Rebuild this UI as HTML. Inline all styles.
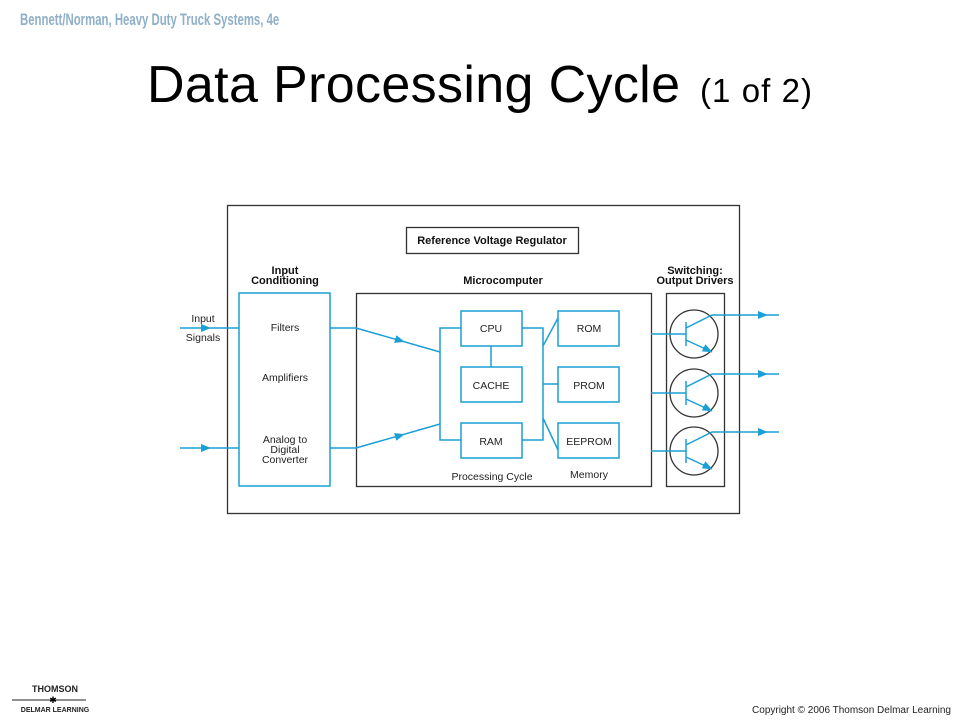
<!DOCTYPE html>
<html><head><style>
body{margin:0;width:959px;height:719px;background:#fff;overflow:hidden;font-family:"Liberation Sans",sans-serif;}
</style></head><body>
<svg width="959" height="719" viewBox="0 0 959 719" xmlns="http://www.w3.org/2000/svg" font-family="Liberation Sans, sans-serif">
<defs>
<marker id="a" markerWidth="10" markerHeight="8" refX="5" refY="4" orient="auto" markerUnits="userSpaceOnUse"><path d="M0,0 L10,4 L0,8 Z" fill="#1a9fd6"/></marker>
</defs>
<text x="0" y="0" font-size="17" font-weight="bold" fill="#8fb0c8" transform="translate(20,25) scale(0.67,1)">Bennett/Norman, Heavy Duty Truck Systems, 4e</text>
<text x="147" y="102" font-size="52" fill="#000" textLength="533">Data Processing Cycle</text>
<text x="700" y="102" font-size="33" fill="#000" textLength="112">(1 of 2)</text>

<g fill="none" stroke="#333" stroke-width="1.3">
<rect x="227.5" y="205.5" width="512" height="308"/>
<rect x="406.5" y="227.5" width="172" height="26"/>
<rect x="356.5" y="293.5" width="295" height="193"/>
<rect x="666.5" y="293.5" width="58" height="193"/>
<circle cx="694" cy="334" r="24"/><circle cx="694" cy="393" r="24"/><circle cx="694" cy="451" r="24"/>
</g>
<g font-size="11" font-weight="bold" text-anchor="middle" fill="#111">
<text x="492" y="244">Reference Voltage Regulator</text>
<text x="285" y="274">Input</text><text x="285" y="284">Conditioning</text>
<text x="503" y="284">Microcomputer</text>
<text x="695" y="274">Switching:</text><text x="695" y="284">Output Drivers</text>
</g>
<g fill="none" stroke="#1a9fd6" stroke-width="1.5">
<rect x="239" y="293" width="91" height="193"/>
<rect x="461" y="311" width="61" height="35"/><rect x="461" y="367" width="61" height="35"/><rect x="461" y="423" width="61" height="35"/>
<rect x="558" y="311" width="61" height="35"/><rect x="558" y="367" width="61" height="35"/><rect x="558" y="423" width="61" height="35"/>
<path d="M180,328 H239 M180,448 H239"/>
<path d="M203,328 H206" marker-end="url(#a)"/><path d="M203,448 H206" marker-end="url(#a)"/>
<path d="M330,328 H356 L440,352 M330,448 H356 L440,424"/>
<path d="M395,339 L400,340.5" marker-end="url(#a)"/><path d="M395,437 L400,435.5" marker-end="url(#a)"/>
<path d="M461,328 H440 V440 H461 M491,346 V367"/>
<path d="M522,328 H543 V440 H522 M543,346 L558,318 M543,384 H558 M543,418 L558,450"/>
<g id="t">
<path d="M651,334 H686 M686,322 V346 M686,328 L712,315 H779 M686,340 L712,352"/>
<path d="M760,315 H763" marker-end="url(#a)"/>
<path d="M703,347.5 L708,350" marker-end="url(#a)"/>
</g>
<use href="#t" y="59"/><use href="#t" y="117"/>
</g>
<g font-size="10.5" text-anchor="middle" fill="#222">
<text x="203" y="322">Input</text><text x="203" y="341">Signals</text>
<text x="285" y="331">Filters</text><text x="285" y="381">Amplifiers</text>
<text x="285" y="443">Analog to</text><text x="285" y="453">Digital</text><text x="285" y="463">Converter</text>
<text x="491" y="332">CPU</text><text x="491" y="389">CACHE</text><text x="491" y="445">RAM</text>
<text x="589" y="332">ROM</text><text x="589" y="389">PROM</text><text x="589" y="445">EEPROM</text>
<text x="492" y="480">Processing Cycle</text><text x="589" y="478">Memory</text>
</g>
<text x="55" y="692" font-size="9" font-weight="bold" text-anchor="middle" fill="#222">THOMSON</text>
<line x1="12" y1="700" x2="86" y2="700" stroke="#222" stroke-width="1"/>
<text x="53" y="703" font-size="9" text-anchor="middle">✱</text>
<text x="55" y="712" font-size="7" font-weight="bold" text-anchor="middle" fill="#222">DELMAR LEARNING</text>
<text x="951" y="713" font-size="10" text-anchor="end" fill="#222">Copyright © 2006 Thomson Delmar Learning</text>
</svg>
</body></html>
